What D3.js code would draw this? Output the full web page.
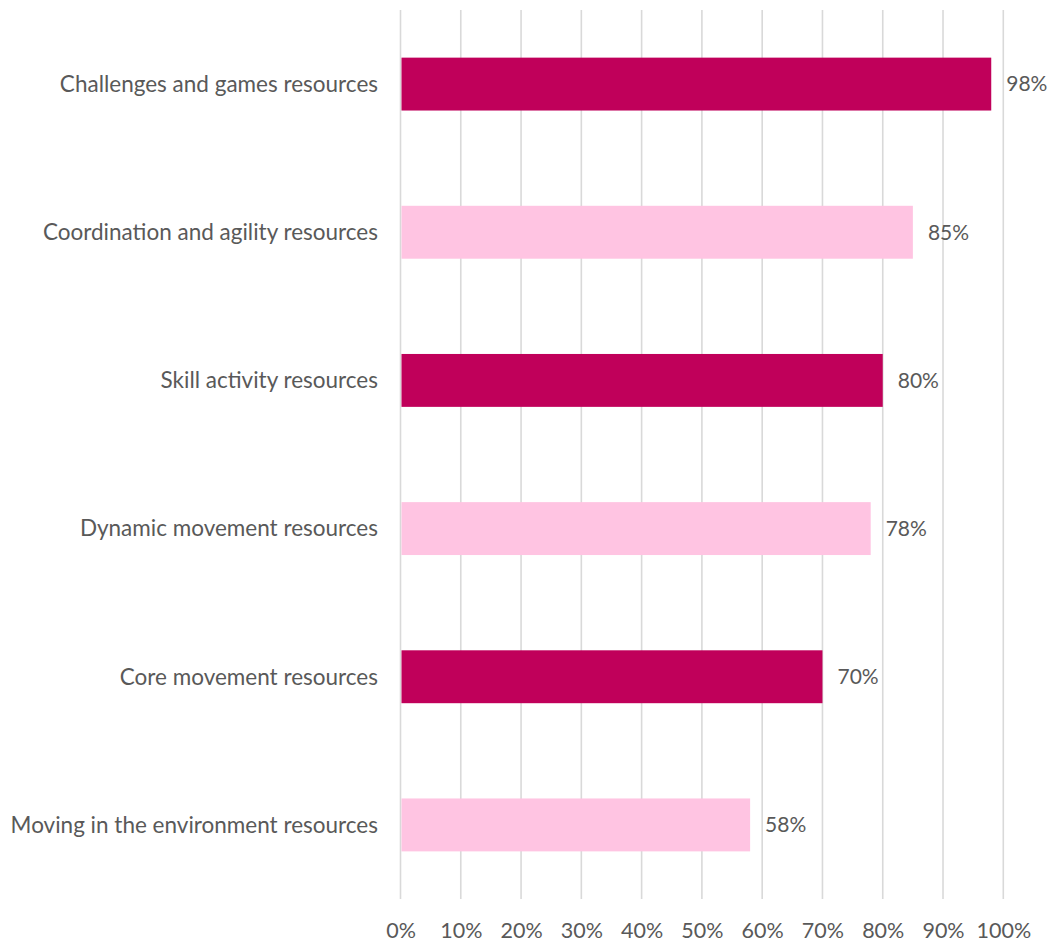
<!DOCTYPE html>
<html>
<head>
<meta charset="utf-8">
<script src="https://cdn.jsdelivr.net/npm/d3@7"></script>
<style>
  html, body { margin: 0; padding: 0; background: #fff; }
  svg text { font-family: Lato, "Open Sans", sans-serif; fill: #595959; }
</style>
</head>
<body>
<svg id="chart" width="1054" height="944"></svg>
<script>
const categories = [
  "Challenges and games resources",
  "Coordination and agility resources",
  "Skill activity resources",
  "Dynamic movement resources",
  "Core movement resources",
  "Moving in the environment resources"
];
const values = [0.98, 0.85, 0.80, 0.78, 0.70, 0.58];
const barColors = ["#C0005A", "#FFC4E2", "#C0005A", "#FFC4E2", "#C0005A", "#FFC4E2"];
const tickValues = [0, 0.1, 0.2, 0.3, 0.4, 0.5, 0.6, 0.7, 0.8, 0.9, 1.0];

const svg = d3.select("#chart");
const plot = { left: 400.5, right: 1003.3, top: 10, bottom: 899 };

const x = d3.scaleLinear().domain([0, 1]).range([plot.left, plot.right]);
const y = d3.scaleBand()
  .domain(categories)
  .range([plot.top, plot.bottom])
  .paddingInner(0.643)
  .paddingOuter(0.3215);

// vertical gridlines
svg.append("g")
  .selectAll("line")
  .data(tickValues)
  .join("line")
  .attr("x1", d => x(d)).attr("x2", d => x(d))
  .attr("y1", plot.top).attr("y2", plot.bottom)
  .attr("stroke", "#d9d9d9")
  .attr("stroke-width", 1.6);

// bars
svg.append("g")
  .selectAll("rect")
  .data(values)
  .join("rect")
  .attr("x", x(0) + 1)
  .attr("y", (d, i) => y(categories[i]))
  .attr("width", d => x(d) - x(0) - 1)
  .attr("height", y.bandwidth())
  .attr("fill", (d, i) => barColors[i]);

// value labels
svg.append("g")
  .selectAll("text")
  .data(values)
  .join("text")
  .attr("x", d => x(d) + 15)
  .attr("y", (d, i) => y(categories[i]) + y.bandwidth() / 2)
  .attr("dy", "0.35em")
  .attr("font-size", 21)
  .text(d => d3.format(".0%")(d));

// category axis labels
svg.append("g")
  .selectAll("text")
  .data(categories)
  .join("text")
  .attr("x", 378)
  .attr("y", d => y(d) + y.bandwidth() / 2)
  .attr("dy", "0.35em")
  .attr("text-anchor", "end")
  .attr("font-size", 22.5)
  .text(d => d);

// x axis tick labels
const xAxis = d3.axisBottom(x).tickValues(tickValues).tickFormat(d3.format(".0%")).tickSize(0).tickPadding(0);
const gx = svg.append("g")
  .attr("transform", `translate(0, ${plot.bottom})`)
  .call(xAxis);
gx.select(".domain").remove();
gx.selectAll("text")
  .attr("y", 31)
  .attr("dy", "0.35em")
  .attr("font-size", 21.5)
  .attr("fill", "#595959")
  .style("font-family", "Lato, 'Open Sans', sans-serif");
</script>
</body>
</html>
